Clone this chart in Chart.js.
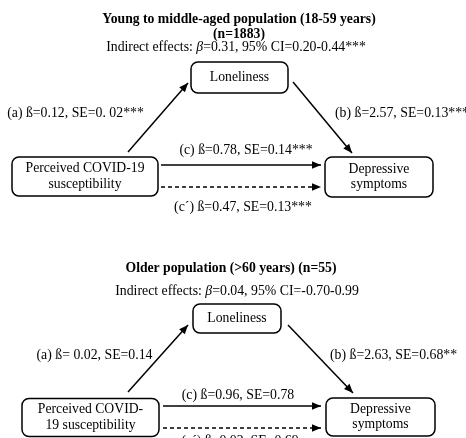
<!DOCTYPE html>
<html>
<head>
<meta charset="utf-8">
<script src="https://cdn.jsdelivr.net/npm/chart.js@4.4.1/dist/chart.umd.min.js"></script>
<style>
  html, body { margin: 0; padding: 0; background: #ffffff; }
  #wrap { width: 466px; height: 438px; }
</style>
</head>
<body>
<div id="wrap"><canvas id="c" width="466" height="438"></canvas></div>
<script>
// ---------------- DATA ----------------
const groupTitles = ['Young to middle-aged population (18-59 years)', 'Older population (>60 years) (n=55)'];
const groupN = ['(n=1883)', null];
const indirectBeta = [0.31, 0.04];
const indirectCI = ['0.20-0.44***', '-0.70-0.99'];
const pathA = ['(a) ß=0.12, SE=0. 02***', '(a) ß= 0.02, SE=0.14'];
const pathB = ['(b) ß=2.57, SE=0.13***', '(b) ß=2.63, SE=0.68**'];
const pathC = ['(c) ß=0.78, SE=0.14***', '(c) ß=0.96, SE=0.78'];
const pathCprime = ['(c´) ß=0.47, SE=0.13***', '(c´) ß=0.02, SE=0.69'];
const mediatorLabel = [['Loneliness'], ['Loneliness']];
const predictorLabel = [['Perceived COVID-19', 'susceptibility'], ['Perceived COVID-', '19 susceptibility']];
const outcomeLabel = [['Depressive', 'symptoms'], ['Depressive', 'symptoms']];

// ---------------- LAYOUT (diagram coordinates in scale units) ----------------
const layout = [
  {
    title: [239, 19], n: [239, 34], indirect: [236, 47],
    med: {cx: 239.5, cy: 77.5, w: 97, h: 31},
    pred: {cx: 85, cy: 176.5, w: 146, h: 39},
    out: {cx: 379, cy: 177, w: 108, h: 40},
    a: [[128, 152], [188, 83]], b: [[293, 82], [352, 153]],
    c: [[161, 165], [321, 165]], cp: [[161, 187], [321, 187]],
    la: [75.5, 113, 'center'], lb: [335, 113, 'left'], lc: [246, 150, 'center'], lcp: [243, 207, 'center']
  },
  {
    title: [231, 268], n: null, indirect: [237, 291],
    med: {cx: 237, cy: 318.5, w: 88, h: 29},
    pred: {cx: 90.5, cy: 417.5, w: 137, h: 38},
    out: {cx: 380.5, cy: 417, w: 109, h: 38},
    a: [[128, 392], [188, 325]], b: [[288, 325], [353, 393]],
    c: [[163, 406], [321, 406]], cp: [[163, 428], [321, 428]],
    la: [94.5, 355, 'center'], lb: [330, 355, 'left'], lc: [238, 395, 'center'], lcp: [240, 441.5, 'center']
  }
];

const SERIF = '"Liberation Serif", "Times New Roman", "DejaVu Serif", serif';
const FS = 13.8;

// arrow datasets (lines) built from layout
const datasets = [];
layout.forEach((L, g) => {
  [['a', false], ['b', false], ['c', false], ['cp', true]].forEach(([k, dashed]) => {
    datasets.push({
      label: k + g,
      data: L[k].map(p => ({x: p[0], y: p[1]})),
      showLine: true,
      borderColor: '#000',
      borderWidth: 1.5,
      borderDash: dashed ? [4, 3] : [],
      pointRadius: 0,
      pointHoverRadius: 0,
      fill: false,
      tension: 0
    });
  });
});

function roundRect(ctx, x, y, w, h, r) {
  ctx.beginPath();
  ctx.moveTo(x + r, y);
  ctx.lineTo(x + w - r, y);
  ctx.arcTo(x + w, y, x + w, y + r, r);
  ctx.lineTo(x + w, y + h - r);
  ctx.arcTo(x + w, y + h, x + w - r, y + h, r);
  ctx.lineTo(x + r, y + h);
  ctx.arcTo(x, y + h, x, y + h - r, r);
  ctx.lineTo(x, y + r);
  ctx.arcTo(x, y, x + r, y, r);
  ctx.closePath();
}

const diagramPlugin = {
  id: 'diagram',
  afterDatasetsDraw(chart) {
    const ctx = chart.ctx;
    const xs = chart.scales.x, ys = chart.scales.y;
    const X = v => xs.getPixelForValue(v), Y = v => ys.getPixelForValue(v);
    ctx.save();
    // arrowheads
    chart.data.datasets.forEach((ds, i) => {
      const pts = chart.getDatasetMeta(i).data;
      if (pts.length < 2) return;
      const p0 = pts[pts.length - 2], p1 = pts[pts.length - 1];
      const ang = Math.atan2(p1.y - p0.y, p1.x - p0.x);
      const len = 9, hw = 3.8;
      ctx.fillStyle = '#000';
      ctx.beginPath();
      ctx.moveTo(p1.x, p1.y);
      ctx.lineTo(p1.x - len * Math.cos(ang) + hw * Math.sin(ang), p1.y - len * Math.sin(ang) - hw * Math.cos(ang));
      ctx.lineTo(p1.x - len * Math.cos(ang) - hw * Math.sin(ang), p1.y - len * Math.sin(ang) + hw * Math.cos(ang));
      ctx.closePath();
      ctx.fill();
    });

    ctx.fillStyle = '#000';
    ctx.textBaseline = 'middle';
    layout.forEach((L, g) => {
      // boxes
      [[L.med, mediatorLabel[g]], [L.pred, predictorLabel[g]], [L.out, outcomeLabel[g]]].forEach(([b, lines]) => {
        const x0 = X(b.cx - b.w / 2), x1 = X(b.cx + b.w / 2);
        const y0 = Y(b.cy - b.h / 2), y1 = Y(b.cy + b.h / 2);
        ctx.fillStyle = '#fff';
        ctx.strokeStyle = '#000';
        ctx.lineWidth = 1.5;
        roundRect(ctx, x0, y0, x1 - x0, y1 - y0, 7);
        ctx.fill();
        ctx.stroke();
        ctx.fillStyle = '#000';
        ctx.font = '13.7px ' + SERIF;
        ctx.textAlign = 'center';
        const lh = 15.5;
        lines.forEach((t, k) => {
          ctx.fillText(t, X(b.cx), Y(b.cy + (k - (lines.length - 1) / 2) * lh));
        });
      });
      // titles
      ctx.textAlign = 'center';
      ctx.font = 'bold 13.7px ' + SERIF;
      ctx.fillText(groupTitles[g], X(L.title[0]), Y(L.title[1]));
      if (groupN[g] && L.n) ctx.fillText(groupN[g], X(L.n[0]), Y(L.n[1]));
      // indirect effects line with italic beta
      const pre = 'Indirect effects: ';
      const beta = 'β';
      const post = '=' + indirectBeta[g].toFixed(2) + ', 95% CI=' + indirectCI[g];
      ctx.font = FS + 'px ' + SERIF;
      const w1 = ctx.measureText(pre).width;
      const w3 = ctx.measureText(post).width;
      ctx.font = 'italic ' + FS + 'px ' + SERIF;
      const w2 = ctx.measureText(beta).width;
      let sx = X(L.indirect[0]) - (w1 + w2 + w3) / 2;
      const sy = Y(L.indirect[1]);
      ctx.textAlign = 'left';
      ctx.font = FS + 'px ' + SERIF;
      ctx.fillText(pre, sx, sy); sx += w1;
      ctx.font = 'italic ' + FS + 'px ' + SERIF;
      ctx.fillText(beta, sx, sy); sx += w2;
      ctx.font = FS + 'px ' + SERIF;
      ctx.fillText(post, sx, sy);
      // path labels
      [[L.la, pathA[g]], [L.lb, pathB[g]], [L.lc, pathC[g]], [L.lcp, pathCprime[g]]].forEach(([p, t]) => {
        ctx.textAlign = p[2];
        ctx.font = FS + 'px ' + SERIF;
        ctx.fillText(t, X(p[0]), Y(p[1]));
      });
    });
    ctx.restore();
  }
};

new Chart(document.getElementById('c'), {
  type: 'scatter',
  data: { datasets },
  options: {
    responsive: false,
    animation: false,
    events: [],
    layout: { padding: 0 },
    plugins: { legend: { display: false }, tooltip: { enabled: false }, title: { display: false } },
    scales: {
      x: { type: 'linear', min: 0, max: 466, display: false },
      y: { type: 'linear', min: 0, max: 438, reverse: true, display: false }
    }
  },
  plugins: [diagramPlugin]
});
</script>
</body>
</html>
